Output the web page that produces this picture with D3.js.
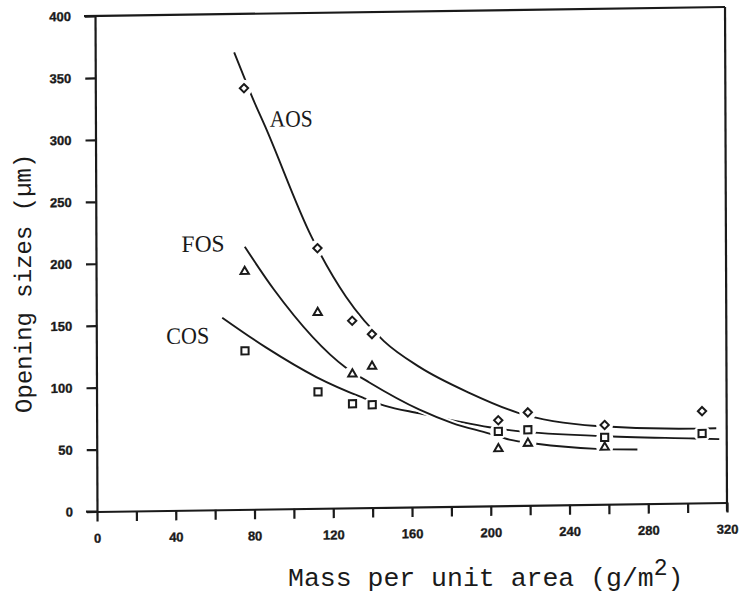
<!DOCTYPE html>
<html>
<head>
<meta charset="utf-8">
<script src="https://cdn.jsdelivr.net/npm/d3@7/dist/d3.min.js"></script>
<style>
  html, body { margin: 0; padding: 0; background: #fff; }
  svg { display: block; }
  .tick text { font-family: "Liberation Sans", Arial, sans-serif; font-weight: 700; font-size: 13px; fill: #1a1a1a; stroke: #1a1a1a; stroke-width: 0.35px; }
</style>
</head>
<body>
<svg id="chart" width="740" height="595"></svg>
<script>
// Axis ticks
const yTicks = [0, 50, 100, 150, 200, 250, 300, 350, 400];
const xTicks = [0, 40, 80, 120, 160, 200, 240, 280, 320];
const xMinorTicks = [20, 60, 100, 140, 180, 220, 260, 300];

// Measured opening sizes (µm) against mass per unit area (g/m²)
const aosMass = [75.5, 112.5, 130, 140, 204, 219, 258, 307.5];
const aosSize = [340, 210, 151, 140, 69, 75, 64, 74];
const fosMass = [75.5, 112.5, 130, 140, 204, 219, 258];
const fosSize = [192, 158, 108, 114, 46, 50, 46];
const cosMass = [75.5, 112.5, 130, 140, 204, 219, 258, 307.5];
const cosSize = [128, 94, 84, 83, 60, 61, 54, 56];

// Fitted trend curves
const aosCurveMass = [70.6, 76.1, 79.2, 86.3, 109.6, 126.9, 146.2, 164, 189.3, 213.7, 253.8, 304.6, 314.7];
const aosCurveSize = [369, 347, 334.5, 308.5, 219, 170.5, 134, 113, 91.5, 75, 63.3, 60, 60];
const fosCurveMass = [75.6, 90.4, 126.9, 138.6, 164, 180.7, 199.5, 209.6, 223.4, 253.8, 274.6];
const fosCurveSize = [212, 177, 113, 101, 78.5, 67.3, 58.4, 53.3, 49.6, 44.8, 43.8];
const cosCurveMass = [64, 86.3, 111.7, 135, 146.2, 164, 199.5, 209.6, 255.3, 303.6, 316.2];
const cosCurveSize = [155, 130.3, 106, 89, 82.2, 75.5, 63.5, 60.9, 55.2, 52, 51.2];

const ink = "#1a1a1a";
const svg = d3.select("#chart");

const x = d3.scaleLinear().domain([0, 320]).range([97, 727]);
const y = d3.scaleLinear().domain([0, 400]).range([511.5, 16]);

// the printed figure sits slightly askew on the page
const g = svg.append("g").attr("transform", "matrix(1,-0.0143,0.004,1,-2.05,1.39)");

// frame: top and right edges
g.append("line").attr("x1", x(0) - 11).attr("x2", x(320)).attr("y1", y(400)).attr("y2", y(400))
  .attr("stroke", ink).attr("stroke-width", 2.2);
g.append("line").attr("x1", x(320)).attr("x2", x(320)).attr("y1", y(400)).attr("y2", y(0) + 9)
  .attr("stroke", ink).attr("stroke-width", 2.2);

// y axis
const yAxis = g.append("g").attr("transform", `translate(${x(0)},0)`)
  .call(d3.axisLeft(y).tickValues(yTicks).tickSize(10).tickSizeOuter(0).tickPadding(14).tickFormat(d3.format("d")));
// x axis, labelled ticks
const xAxis = g.append("g").attr("transform", `translate(0,${y(0)})`)
  .call(d3.axisBottom(x).tickValues(xTicks).tickSize(10).tickSizeOuter(0).tickPadding(12).tickFormat(d3.format("d")));
// x axis, unlabelled ticks
const xMinor = g.append("g").attr("transform", `translate(0,${y(0)})`)
  .call(d3.axisBottom(x).tickValues(xMinorTicks).tickSize(10).tickSizeOuter(0).tickFormat(""));
xMinor.select(".domain").remove();

[yAxis, xAxis, xMinor].forEach(a => {
  a.selectAll(".domain").attr("stroke", ink).attr("stroke-width", 2.2);
  a.selectAll(".tick line").attr("stroke", ink).attr("stroke-width", 2.2);
});
// extend the x axis line left of the origin
g.append("line").attr("x1", x(0) - 11).attr("x2", x(0)).attr("y1", y(0)).attr("y2", y(0))
  .attr("stroke", ink).attr("stroke-width", 2.2);

// curves
const line = d3.line().x(d => x(d[0])).y(d => y(d[1])).curve(d3.curveMonotoneX);
const curves = [
  d3.zip(cosCurveMass, cosCurveSize),
  d3.zip(fosCurveMass, fosCurveSize),
  d3.zip(aosCurveMass, aosCurveSize)
];
curves.forEach(pts => {
  g.append("path").attr("d", line(pts)).attr("fill", "none")
    .attr("stroke", "#fff").attr("stroke-width", 6);
  g.append("path").attr("d", line(pts)).attr("fill", "none")
    .attr("stroke", ink).attr("stroke-width", 1.9);
});

// series markers
const series = [
  { mass: aosMass, size: aosSize, symbol: d3.symbolDiamond2, area: 44 },
  { mass: fosMass, size: fosSize, symbol: d3.symbolTriangle, area: 30 },
  { mass: cosMass, size: cosSize, symbol: d3.symbolSquare, area: 52 }
];
// clear the curves around each marker
series.forEach(s => {
  g.append("g").selectAll("circle").data(d3.zip(s.mass, s.size)).join("circle")
    .attr("cx", d => x(d[0])).attr("cy", d => y(d[1])).attr("r", 8.5).attr("fill", "#fff");
});
series.forEach(s => {
  g.append("g").selectAll("path").data(d3.zip(s.mass, s.size)).join("path")
    .attr("transform", d => `translate(${x(d[0])},${y(d[1])})`)
    .attr("d", d3.symbol(s.symbol, s.area))
    .attr("fill", "#fff").attr("stroke", ink).attr("stroke-width", 2);
});

// curve labels
const labelFont = "'Liberation Serif', 'Times New Roman', serif";
[["AOS", 88.5, 308.5], ["FOS", 43.5, 208.5], ["COS", 35.5, 134.5]].forEach(([t, m, v]) => {
  g.append("text").attr("x", x(m)).attr("y", y(v)).text(t)
    .attr("font-family", labelFont).attr("font-size", 23.5).attr("fill", ink)
    .attr("textLength", 43).attr("lengthAdjust", "spacingAndGlyphs");
});

// axis titles
const titleFont = "'Liberation Mono', 'Courier New', monospace";
g.append("text").attr("transform", `translate(32,${y(185)}) rotate(-90)`)
  .attr("text-anchor", "middle").attr("font-family", titleFont).attr("font-size", 24).attr("fill", ink)
  .text("Opening sizes (µm)");
const xt = svg.append("text").attr("x", 288).attr("y", 586)
  .attr("font-family", titleFont).attr("font-size", 26.5).attr("fill", ink);
xt.append("tspan").text("Mass per unit area (g/m");
xt.append("tspan").attr("dy", -11).attr("font-size", 23).text("2");
xt.append("tspan").attr("dy", 11).text(")");
</script>
</body>
</html>
